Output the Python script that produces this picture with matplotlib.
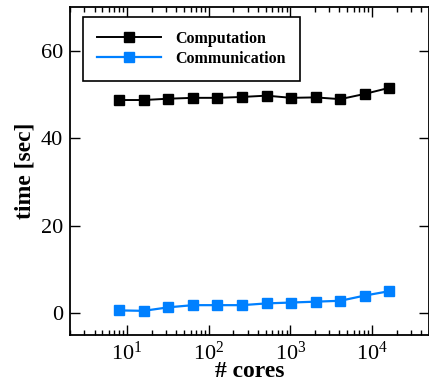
import matplotlib
matplotlib.use("Agg")
import matplotlib.pyplot as plt
from matplotlib.ticker import LogLocator

cores = [8, 16, 32, 64, 128, 256, 512, 1024, 2048, 4096, 8192, 16384]
computation = [48.7, 48.7, 49.0, 49.2, 49.2, 49.4, 49.7, 49.2, 49.3, 48.9, 50.1, 51.5]
communication = [0.6, 0.5, 1.3, 1.8, 1.8, 1.8, 2.2, 2.4, 2.6, 2.8, 4.0, 5.0]

plt.rcParams['font.family'] = ['Liberation Serif', 'DejaVu Serif']
plt.rcParams['mathtext.fontset'] = 'stix'

fig = plt.figure(figsize=(4.29, 3.81), dpi=100)
ax = fig.add_axes([0.163, 0.121, 0.837, 0.861])

ax.plot(cores, computation, color='black', marker='s', markersize=7, linewidth=1.4,
        label='Computation')
ax.plot(cores, communication, color='#0080ff', marker='s', markersize=7, linewidth=1.6,
        label='Communication')

ax.set_xscale('log')
ax.set_xlim(2, 5e4)
ax.set_ylim(-5, 70)
ax.set_yticks([0, 20, 40, 60])
ax.xaxis.set_major_locator(LogLocator(base=10, numticks=10))
ax.xaxis.set_minor_locator(LogLocator(base=10, subs=range(2, 10), numticks=20))

ax.tick_params(which='both', direction='in', top=True, right=True, labelsize=16, width=1)
ax.tick_params(which='major', length=7, pad=5)
ax.tick_params(which='minor', length=3.5)
for s in ax.spines.values():
    s.set_linewidth(1.3)

ax.set_xlabel('# cores', fontsize=17, fontweight='bold', labelpad=-3)
ax.set_ylabel('time [sec]', fontsize=17, fontweight='bold', labelpad=4)

leg = ax.legend(loc='upper left', bbox_to_anchor=(0.036, 0.97), borderaxespad=0,
                fancybox=False, edgecolor='black', framealpha=1, handlelength=4.0,
                handletextpad=0.9, prop={'weight': 'bold', 'size': 11.5},
                borderpad=0.9, labelspacing=0.25)
leg.get_frame().set_linewidth(1.2)

fig.savefig('out.png', dpi=100)
